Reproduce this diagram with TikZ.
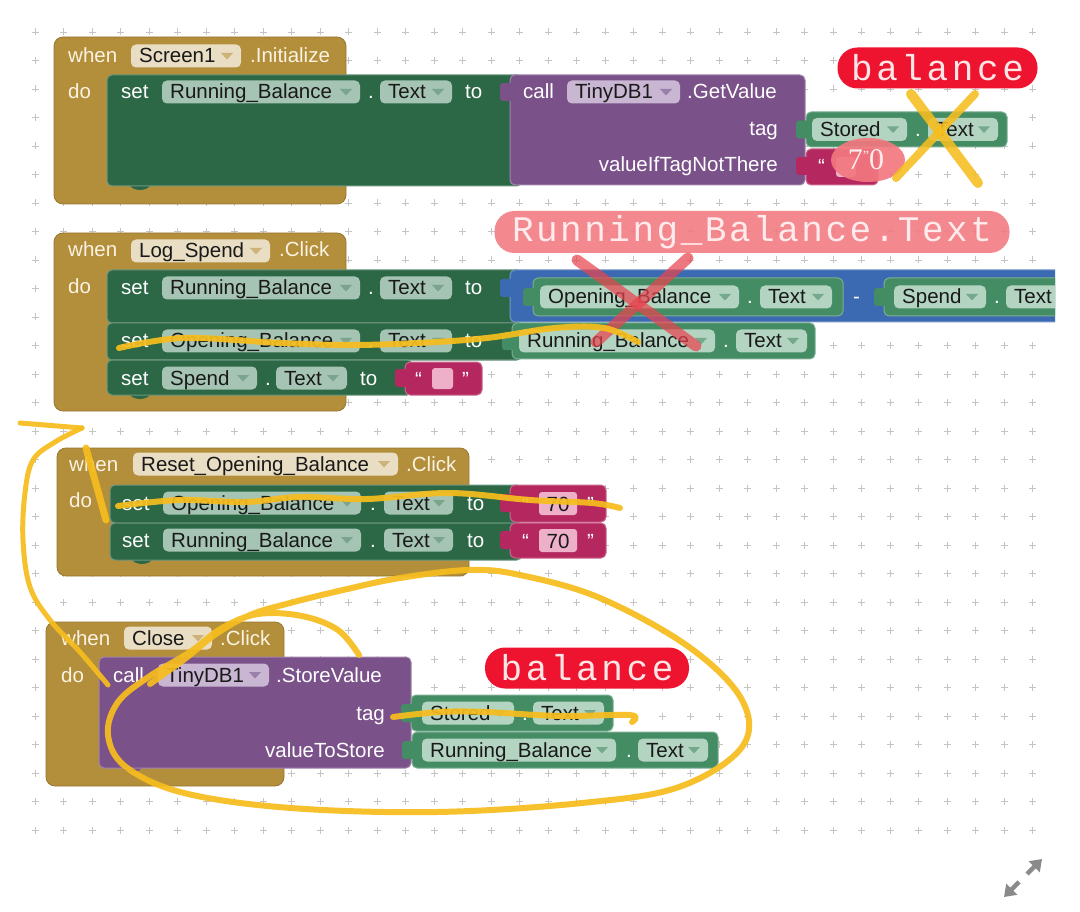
\documentclass[tikz,border=0pt]{standalone}
\usepackage{fontspec}
\setmainfont{Liberation Sans}
\newfontfamily\annofont[LetterSpace=10]{Liberation Mono}
\newfontfamily\annofontb[LetterSpace=7]{Liberation Mono}
\newfontfamily\serifnum{Liberation Serif}
\usetikzlibrary{arrows.meta}
\definecolor{gold}{HTML}{B38E3B}
\definecolor{goldbg}{HTML}{E9DEC3}
\definecolor{goldtri}{HTML}{CDB27A}
\definecolor{dgreen}{HTML}{2C6846}
\definecolor{dgreenbg}{HTML}{A5C4B3}
\definecolor{dgreentri}{HTML}{7AA48D}
\definecolor{mgreen}{HTML}{438C64}
\definecolor{mgreenbg}{HTML}{B4D4C2}
\definecolor{mgreentri}{HTML}{74A98B}
\definecolor{purp}{HTML}{7A5189}
\definecolor{purpbg}{HTML}{C9B6D3}
\definecolor{purptri}{HTML}{9A7FA8}
\definecolor{magen}{HTML}{B4285F}
\definecolor{pinkbox}{HTML}{EDB0C8}
\definecolor{mathblue}{HTML}{3B69B2}
\definecolor{lblred}{HTML}{EE1430}
\definecolor{lblpink}{HTML}{F27880}
\definecolor{xred}{HTML}{E8454F}
\definecolor{yel}{HTML}{F6BD1E}
\definecolor{gridc}{HTML}{C4C4C4}
\definecolor{cream}{HTML}{FAF3E2}
\definecolor{iconc}{HTML}{8A8A8A}
\newcommand\blk{\fontsize{20.5}{24}\selectfont}
\tikzset{
  wtx/.style={text=white, font=\blk, inner sep=0pt},
  ctx/.style={text=cream, font=\blk, inner sep=0pt},
  ktx/.style={text=black!90, font=\blk, inner sep=0pt},
  hand/.style={draw=yel, line width=6pt, line cap=round, line join=round, opacity=0.93},
  redx/.style={draw=xred, line width=11pt, line cap=round, opacity=0.72},
  gridp/.style={draw=gridc, line width=0.9pt},
  blockfill/.style={fill=#1, draw=#1!70!white, line width=1pt, rounded corners=5pt},
  eventfill/.style={fill=#1, draw=#1!85!black, line width=0.8pt, rounded corners=9pt},
  lbl/.style={rounded corners=20pt, inner sep=0pt, font={\annofont\fontsize{36}{36}\selectfont}},
}
% white text, left anchored at (x, y-centre)
\newcommand\wtxt[4]{\node[wtx, anchor=base west] (#1) at (#2,#3+7) {#4};}
\newcommand\ctxt[4]{\node[ctx, anchor=base west] (#1) at (#2,#3+7) {#4};}
\newcommand\wtxtr[4]{\node[wtx, anchor=base east] (#1) at (#2,#3+7) {#4};}
% dropdown: name, x1, x2, ycentre, colour set, text
\newcommand\ddn[6]{%
  \fill[#5bg, rounded corners=5pt] (#2,#4-11.5) rectangle (#3,#4+11.5);
  \node[ktx, anchor=base west] (#1) at (#2+8,#4+7) {#6};
  \fill[#5tri] (#3-20,#4-3) -- (#3-8,#4-3) -- (#3-14,#4+3.5) -- cycle;}
% value tab: x, ycentre, colour
\newcommand\vtab[3]{\fill[#3, rounded corners=3pt] (#1-10,#2-9) rectangle (#1+3,#2+9);}
% statement bottom bump: x, y, colour
\newcommand\bump[3]{\fill[#3] (#1-11,#2-2) .. controls (#1-8,#2+6) and (#1+8,#2+6) .. (#1+11,#2-2) -- cycle;}
\begin{document}
\begin{tikzpicture}[x=1pt,y=-1pt]
\useasboundingbox (0,0) rectangle (1080,912);
\fill[white] (0,0) rectangle (1080,912);
% grid
\foreach \i in {0,...,35}{\foreach \j in {0,...,28}{
  \draw[gridp] ({35+\i*28.5-3.5},{32+\j*28.5}) -- ++(7,0) ({35+\i*28.5},{32+\j*28.5-3.5}) -- ++(0,7);}}

% ================= Block 1: Screen1.Initialize
\path[eventfill=gold] (54,37) rectangle (346,204);
\ctxt{w1}{68}{56}{when}
\ddn{scr1}{131}{241}{56}{gold}{Screen1}
\ctxt{ini1}{250}{56}{.Initialize}
\ctxt{do1}{68}{92}{do}
\bump{140}{186}{dgreen}
\path[blockfill=dgreen] (107,75) rectangle (522,186);
\wtxt{set1}{121}{92}{set}
\ddn{rb1}{162}{360}{92}{dgreen}{Running\_Balance}
\wtxt{dot1}{368}{92}{.}
\ddn{tx1}{380}{452}{92}{dgreen}{Text}
\wtxt{to1}{465}{92}{to}
\path[blockfill=purp] (510,75) rectangle (805,185);
\vtab{510}{92}{purp}
\wtxt{call1}{523}{92}{call}
\ddn{db1}{567}{680}{92}{purp}{TinyDB1}
\wtxt{gv1}{687}{92}{.GetValue}
\wtxtr{tag1}{778}{129}{tag}
\wtxtr{vn1}{778}{165}{valueIfTagNotThere}
\path[blockfill=mgreen] (806,112) rectangle (1007,147);
\vtab{806}{129.5}{mgreen}
\ddn{st1}{812}{907}{129.5}{mgreen}{Stored}
\wtxt{dot2}{915}{129.5}{.}
\ddn{tx2}{928}{998}{129.5}{mgreen}{Text}
\path[blockfill=magen] (806,149) rectangle (878,185);
\vtab{806}{166}{magen}
\wtxt{q1}{818}{167}{“}
\fill[pinkbox, rounded corners=3pt] (836,157) rectangle (856,177);

% ================= Block 2: Log_Spend.Click
\path[eventfill=gold] (54,233) rectangle (346,411);
\ctxt{w2}{68}{250}{when}
\ddn{ls2}{131}{270}{251}{gold}{Log\_Spend}
\ctxt{cl2}{279}{250}{.Click}
\ctxt{do2}{68}{287}{do}
\bump{140}{395}{dgreen}
\path[blockfill=dgreen] (107,270) rectangle (522,323);
\wtxt{set2a}{121}{288}{set}
\ddn{rb2}{162}{360}{288}{dgreen}{Running\_Balance}
\wtxt{dot3}{368}{288}{.}
\ddn{tx3}{380}{452}{288}{dgreen}{Text}
\wtxt{to2}{465}{288}{to}
\begin{scope}
\clip (0,0) rectangle (1055,912);
\path[blockfill=mathblue] (510,270) rectangle (1090,322);
\vtab{510}{288}{mathblue}
\path[blockfill=mgreen] (533,278) rectangle (843,316);
\vtab{533}{297}{mgreen}
\ddn{ob2}{540}{739}{297}{mgreen}{Opening\_Balance}
\wtxt{dot4}{747}{297}{.}
\ddn{tx4}{760}{832}{297}{mgreen}{Text}
\wtxt{minus}{853}{297}{-}
\path[blockfill=mgreen] (884,278) rectangle (1090,316);
\vtab{884}{297}{mgreen}
\ddn{sp2}{894}{986}{297}{mgreen}{Spend}
\wtxt{dot5}{994}{297}{.}
\ddn{tx5}{1006}{1080}{297}{mgreen}{Text}
\end{scope}
\path[blockfill=dgreen] (107,323) rectangle (522,360);
\wtxt{set2b}{121}{341}{set}
\ddn{ob3}{162}{360}{341}{dgreen}{Opening\_Balance}
\wtxt{dot6}{368}{341}{.}
\ddn{tx6}{380}{452}{341}{dgreen}{Text}
\wtxt{to3}{465}{341}{to}
\path[blockfill=mgreen] (512,323) rectangle (815,359);
\vtab{512}{341}{mgreen}
\ddn{rb3}{519}{715}{341}{mgreen}{Running\_Balance}
\wtxt{dot7}{723}{341}{.}
\ddn{tx7}{736}{807}{341}{mgreen}{Text}
\path[blockfill=dgreen] (107,360) rectangle (412,395);
\wtxt{set2c}{121}{378}{set}
\ddn{sp3}{162}{257}{378}{dgreen}{Spend}
\wtxt{dot8}{265}{378}{.}
\ddn{tx8}{276}{347}{378}{dgreen}{Text}
\wtxt{to4}{360}{378}{to}
\path[blockfill=magen] (405,362) rectangle (482,395);
\vtab{405}{378}{magen}
\wtxt{q2}{415}{379}{“}
\fill[pinkbox, rounded corners=3pt] (432,368) rectangle (453,389);
\wtxt{q3}{462}{379}{”}

% ================= Block 3: Reset_Opening_Balance.Click
\path[eventfill=gold] (57,448) rectangle (469,576);
\ctxt{w3}{69}{464}{when}
\ddn{ro3}{133}{398}{464}{gold}{Reset\_Opening\_Balance}
\ctxt{cl3}{406}{464}{.Click}
\ctxt{do3}{69}{500}{do}
\bump{142}{560}{dgreen}
\path[blockfill=dgreen] (110,485) rectangle (522,523);
\wtxt{set3a}{122}{503}{set}
\ddn{ob4}{163}{361}{503}{dgreen}{Opening\_Balance}
\wtxt{dot9}{370}{503}{.}
\ddn{tx9}{384}{453}{503}{dgreen}{Text}
\wtxt{to5}{467}{503}{to}
\path[blockfill=magen] (510,485) rectangle (606,522);
\vtab{510}{503}{magen}
\wtxt{q4}{522}{504}{“}
\fill[pinkbox, rounded corners=3pt] (539,492) rectangle (577,515);
\node[ktx, anchor=base] (n70a) at (558,511) {70};
\wtxt{q5}{587}{504}{”}
\path[blockfill=dgreen] (110,523) rectangle (522,560);
\wtxt{set3b}{122}{540}{set}
\ddn{rb4}{163}{361}{540}{dgreen}{Running\_Balance}
\wtxt{dot10}{370}{540}{.}
\ddn{tx10}{384}{453}{540}{dgreen}{Text}
\wtxt{to6}{467}{540}{to}
\path[blockfill=magen] (510,523) rectangle (606,558);
\vtab{510}{540}{magen}
\wtxt{q6}{522}{541}{“}
\fill[pinkbox, rounded corners=3pt] (539,529) rectangle (577,552);
\node[ktx, anchor=base] (n70b) at (558,548) {70};
\wtxt{q7}{587}{541}{”}

% ================= Block 4: Close.Click
\path[eventfill=gold] (46,622) rectangle (284,786);
\ctxt{w4}{61}{638}{when}
\ddn{cls4}{124}{212}{638}{gold}{Close}
\ctxt{cl4}{220}{638}{.Click}
\ctxt{do4}{61}{675}{do}
\bump{132}{768}{purp}
\path[blockfill=purp] (99,657) rectangle (411,768);
\wtxt{call4}{113}{675}{call}
\ddn{db4}{158}{269}{675}{purp}{TinyDB1}
\wtxt{sv4}{276}{675}{.StoreValue}
\wtxtr{tag4}{385}{713}{tag}
\wtxtr{vs4}{385}{750}{valueToStore}
\path[blockfill=mgreen] (411,695) rectangle (613,731);
\vtab{411}{713}{mgreen}
\ddn{st4}{422}{514}{713}{mgreen}{Stored}
\wtxt{dot11}{522}{713}{.}
\ddn{tx11}{533}{604}{713}{mgreen}{Text}
\path[blockfill=mgreen] (412,732) rectangle (718,768);
\vtab{412}{750}{mgreen}
\ddn{rb5}{422}{616}{750}{mgreen}{Running\_Balance}
\wtxt{dot12}{626}{750}{.}
\ddn{tx12}{638}{708}{750}{mgreen}{Text}

% ================= annotations
\node[lbl, fill=lblred, minimum width=200pt, minimum height=41pt, text=pink!40!white] (bal1) at (937.5,68) {balance};
\fill[lblpink, opacity=0.92] (868,160) ellipse [x radius=37, y radius=22];
\node[inner sep=0pt, text=pink!30!white, font={\serifnum\fontsize{30}{30}\selectfont}] (seventy) at (866,160) {7\raisebox{0.3em}{\fontsize{14}{14}\selectfont ”}0};
\draw[hand, line width=10pt, opacity=0.88] (911,94) -- (978,183);
\draw[hand, line width=8pt, opacity=0.88] (975,94) -- (896,178);

\node[lbl, fill=lblpink, fill opacity=0.88, text opacity=1, minimum width=515pt, minimum height=42pt, text=red!8!white, font={\annofontb\fontsize{36}{36}\selectfont}] (rbt) at (752,232) {Running\_Balance.Text};
\draw[redx] (577,260) -- (696,346);
\draw[redx] (688,258) -- (596,342);

\draw[hand] plot[smooth, tension=0.6] coordinates {(119,348) (184,338) (281,343) (350,345) (418,343) (487,338) (555,328) (604,328) (638,342)};
\draw[hand] plot[smooth, tension=0.6] coordinates {(118,506) (180,500) (245,502) (300,497) (367,499) (449,493) (530,500) (592,503) (620,508)};
\draw[hand, line width=7pt] (86,448) -- (106,520);
\draw[hand, line width=5pt] (20,423) -- (82,428);
\draw[hand, line width=5pt] plot[smooth, tension=0.6] coordinates {(82,428) (55,442) (33,460) (25,493) (23,540) (30,587) (50,620) (80,652) (108,685)};
\draw[hand, line width=6pt] plot[smooth, tension=0.6] coordinates {(359,655) (338,630) (302,616) (258,614) (222,628) (190,652) (150,676) (118,702) (108,735) (126,767) (184,793) (291,808) (437,812) (582,803) (679,787) (742,747) (742,700) (689,647) (600,598) (520,575) (469,570) (400,578) (343,590) (290,603) (250,615) (216,634) (186,658) (150,684)};
\node[lbl, fill=lblred, minimum width=204pt, minimum height=41pt, text=pink!40!white] (bal2) at (587,668) {balance};
\draw[hand] plot[smooth, tension=0.6] coordinates {(393,717) (440,712) (485,712) (560,716) (630,715) (632,722)};

% expand icon
\coordinate (ic) at (1023,878);
\draw[iconc, line width=4.5pt, -{Triangle[length=11pt,width=15pt]}] (1027,874) -- (1042,859);
\draw[iconc, line width=4.5pt, -{Triangle[length=11pt,width=15pt]}] (1019,882) -- (1004,897);
\end{tikzpicture}
\end{document}
